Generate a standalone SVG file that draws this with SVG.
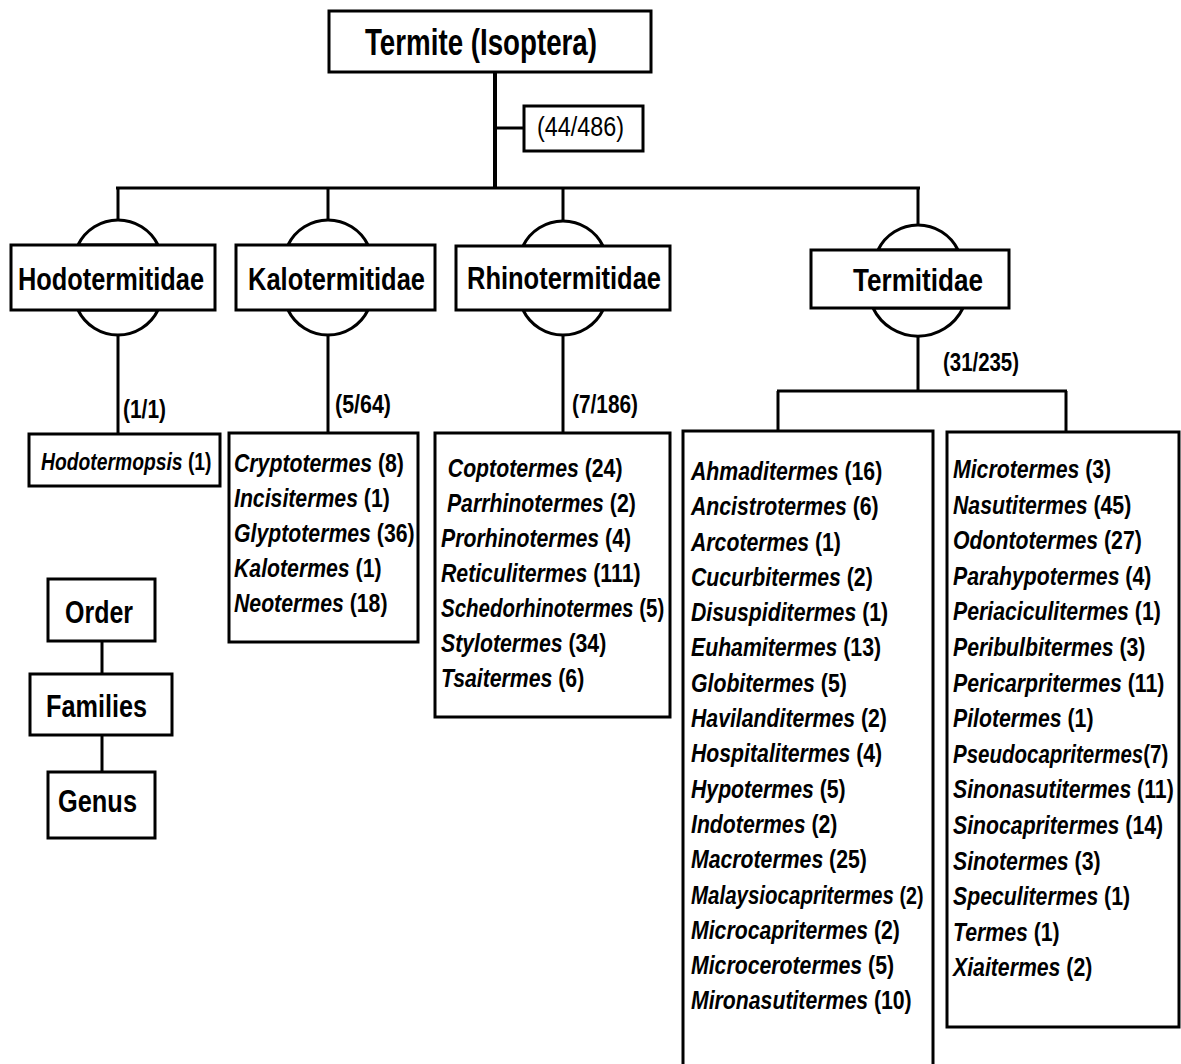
<svg xmlns="http://www.w3.org/2000/svg" width="1181" height="1064" viewBox="0 0 1181 1064">
<style>
.box{fill:#fff;stroke:#000;stroke-width:3}
.ln{stroke:#000;stroke-width:3;fill:none}
.arc{stroke:#000;stroke-width:3;fill:#fff}
.h{font-family:"Liberation Sans",Arial,sans-serif;font-weight:bold;font-size:32px;fill:#000}
.li{font-family:"Liberation Sans",Arial,sans-serif;font-weight:bold;font-size:25px;fill:#000}
.cnt{font-family:"Liberation Sans",Arial,sans-serif;font-weight:bold;font-size:25px;fill:#000}
.it{font-style:italic}
</style>
<rect width="1181" height="1064" fill="#fff"/>
<g id="connectors">
  <line class="ln" x1="495" y1="72" x2="495" y2="189" style="stroke-width:4"/>
  <line class="ln" x1="495" y1="128" x2="524" y2="128"/>
  <line class="ln" x1="116" y1="188" x2="920" y2="188"/>
  <line class="ln" x1="118" y1="188" x2="118" y2="221"/>
  <line class="ln" x1="328" y1="188" x2="328" y2="221"/>
  <line class="ln" x1="563" y1="188" x2="563" y2="221"/>
  <line class="ln" x1="918" y1="188" x2="918" y2="226"/>
  <line class="ln" x1="118" y1="335" x2="118" y2="434"/>
  <line class="ln" x1="328" y1="335" x2="328" y2="433"/>
  <line class="ln" x1="563" y1="335" x2="563" y2="433"/>
  <line class="ln" x1="918" y1="337" x2="918" y2="391"/>
  <line class="ln" x1="777" y1="391" x2="1067" y2="391"/>
  <line class="ln" x1="778" y1="391" x2="778" y2="431"/>
  <line class="ln" x1="1066" y1="391" x2="1066" y2="432"/>
  <line class="ln" x1="102" y1="641" x2="102" y2="674"/>
  <line class="ln" x1="102" y1="735" x2="102" y2="772"/>
  <text class="cnt" x="123" y="418" textLength="43" lengthAdjust="spacingAndGlyphs">(1/1)</text>
  <text class="cnt" x="335" y="413" textLength="56" lengthAdjust="spacingAndGlyphs">(5/64)</text>
  <text class="cnt" x="572" y="413" textLength="66" lengthAdjust="spacingAndGlyphs">(7/186)</text>
  <text class="cnt" x="943" y="371" textLength="76" lengthAdjust="spacingAndGlyphs">(31/235)</text>
</g>
<g id="order">
  <rect class="box" x="329" y="11" width="322" height="61"/>
  <text class="h" x="365" y="55" style="font-size:36px" textLength="232" lengthAdjust="spacingAndGlyphs">Termite (Isoptera)</text>
</g>
<g id="total">
  <rect class="box" x="524" y="106" width="119" height="45"/>
  <text x="537" y="136" style="font-family:'Liberation Sans',Arial,sans-serif;font-size:28px" textLength="87" lengthAdjust="spacingAndGlyphs">(44/486)</text>
</g>
<g id="hodotermitidae">
  <path class="arc" d="M78,245 A44.5,44.5 0 0 1 158,245 Z"/>
  <path class="arc" d="M78,310 A44.5,44.5 0 0 0 158,310 Z"/>
  <rect class="box" x="11" y="245" width="204" height="65"/>
  <text class="h" x="18" y="290" textLength="186" lengthAdjust="spacingAndGlyphs">Hodotermitidae</text>
</g>
<g id="kalotermitidae">
  <path class="arc" d="M288,245 A44.5,44.5 0 0 1 368,245 Z"/>
  <path class="arc" d="M288,310 A44.5,44.5 0 0 0 368,310 Z"/>
  <rect class="box" x="236" y="245" width="199" height="65"/>
  <text class="h" x="248" y="290" textLength="177" lengthAdjust="spacingAndGlyphs">Kalotermitidae</text>
</g>
<g id="rhinotermitidae">
  <path class="arc" d="M523,246 A44.5,44.5 0 0 1 603,246 Z"/>
  <path class="arc" d="M523,310 A44.5,44.5 0 0 0 603,310 Z"/>
  <rect class="box" x="456" y="246" width="214" height="64"/>
  <text class="h" x="467" y="289" textLength="194" lengthAdjust="spacingAndGlyphs">Rhinotermitidae</text>
</g>
<g id="termitidae">
  <path class="arc" d="M878,250 A44.5,44.5 0 0 1 958,250 Z"/>
  <path class="arc" d="M873,308 A50,50 0 0 0 963,308 Z"/>
  <rect class="box" x="811" y="250" width="198" height="58"/>
  <text class="h" x="853" y="291" textLength="130" lengthAdjust="spacingAndGlyphs">Termitidae</text>
</g>
<g id="hodo-genera">
  <rect class="box" x="29" y="434" width="191" height="52"/>
  <g transform="translate(41,0) scale(0.84,1)" class="li">
    <text x="0" y="470" style="font-size:23px"><tspan class="it">Hodotermopsis</tspan> (1)</text>
  </g>
</g>
<g id="kalo-genera">
  <rect class="box" x="229" y="433" width="189" height="209"/>
  <g transform="translate(234,0) scale(0.85,1)" class="li">
    <text x="0" y="472"><tspan class="it">Cryptotermes</tspan> (8)</text>
    <text x="0" y="507"><tspan class="it">Incisitermes</tspan> (1)</text>
    <text x="0" y="542"><tspan class="it">Glyptotermes</tspan> (36)</text>
    <text x="0" y="577"><tspan class="it">Kalotermes</tspan> (1)</text>
    <text x="0" y="612"><tspan class="it">Neotermes</tspan> (18)</text>
  </g>
</g>
<g id="rhino-genera">
  <rect class="box" x="435" y="433" width="235" height="284"/>
  <g transform="translate(441,0) scale(0.85,1)" class="li">
    <text x="8" y="477"><tspan class="it">Coptotermes</tspan> (24)</text>
    <text x="7" y="512"><tspan class="it">Parrhinotermes</tspan> (2)</text>
    <text x="0" y="547"><tspan class="it">Prorhinotermes</tspan> (4)</text>
    <text x="0" y="582"><tspan class="it">Reticulitermes</tspan> (111)</text>
    <text x="0" y="652"><tspan class="it">Stylotermes</tspan> (34)</text>
    <text x="0" y="687"><tspan class="it">Tsaitermes</tspan> (6)</text>
  </g>
  <g transform="translate(441,0) scale(0.82,1)" class="li">
    <text x="0" y="617"><tspan class="it">Schedorhinotermes</tspan> (5)</text>
  </g>
</g>
<g id="termitidae-genera-1">
  <rect class="box" x="683" y="431" width="250" height="640"/>
  <g transform="translate(691,0) scale(0.85,1)" class="li">
    <text x="0" y="480"><tspan class="it">Ahmaditermes</tspan> (16)</text>
    <text x="0" y="515.3"><tspan class="it">Ancistrotermes</tspan> (6)</text>
    <text x="0" y="550.6"><tspan class="it">Arcotermes</tspan> (1)</text>
    <text x="0" y="585.9"><tspan class="it">Cucurbitermes</tspan> (2)</text>
    <text x="0" y="621.2"><tspan class="it">Disuspiditermes</tspan> (1)</text>
    <text x="0" y="656.5"><tspan class="it">Euhamitermes</tspan> (13)</text>
    <text x="0" y="691.8"><tspan class="it">Globitermes</tspan> (5)</text>
    <text x="0" y="727.1"><tspan class="it">Havilanditermes</tspan> (2)</text>
    <text x="0" y="762.4"><tspan class="it">Hospitalitermes</tspan> (4)</text>
    <text x="0" y="797.7"><tspan class="it">Hypotermes</tspan> (5)</text>
    <text x="0" y="833"><tspan class="it">Indotermes</tspan> (2)</text>
    <text x="0" y="868.3"><tspan class="it">Macrotermes</tspan> (25)</text>
    <text x="0" y="938.9"><tspan class="it">Microcapritermes</tspan> (2)</text>
    <text x="0" y="974.2"><tspan class="it">Microcerotermes</tspan> (5)</text>
    <text x="0" y="1009.5"><tspan class="it">Mironasutitermes</tspan> (10)</text>
  </g>
  <g transform="translate(691,0) scale(0.82,1)" class="li">
    <text x="0" y="903.6"><tspan class="it">Malaysiocapritermes</tspan> <tspan style="font-size:24px">(2)</tspan></text>
  </g>
</g>
<g id="termitidae-genera-2">
  <rect class="box" x="947" y="432" width="232" height="595"/>
  <g transform="translate(953,0) scale(0.85,1)" class="li">
    <text x="0" y="478"><tspan class="it">Microtermes</tspan> (3)</text>
    <text x="0" y="513.6"><tspan class="it">Nasutitermes</tspan> (45)</text>
    <text x="0" y="549.2"><tspan class="it">Odontotermes</tspan> (27)</text>
    <text x="0" y="584.8"><tspan class="it">Parahypotermes</tspan> (4)</text>
    <text x="0" y="620.4"><tspan class="it">Periaciculitermes</tspan> (1)</text>
    <text x="0" y="656"><tspan class="it">Peribulbitermes</tspan> (3)</text>
    <text x="0" y="691.6"><tspan class="it">Pericarpritermes</tspan> (11)</text>
    <text x="0" y="727.2"><tspan class="it">Pilotermes</tspan> (1)</text>
    <text x="0" y="798.4"><tspan class="it">Sinonasutitermes</tspan> (11)</text>
    <text x="0" y="834"><tspan class="it">Sinocapritermes</tspan> (14)</text>
    <text x="0" y="869.6"><tspan class="it">Sinotermes</tspan> (3)</text>
    <text x="0" y="905.2"><tspan class="it">Speculitermes</tspan> (1)</text>
    <text x="0" y="940.8"><tspan class="it">Termes</tspan> (1)</text>
    <text x="0" y="976.4"><tspan class="it">Xiaitermes</tspan> (2)</text>
  </g>
  <g transform="translate(953,0) scale(0.82,1)" class="li">
    <text x="0" y="762.8"><tspan class="it">Pseudocapritermes</tspan>(7)</text>
  </g>
</g>
<g id="legend-order">
  <rect class="box" x="48" y="579" width="107" height="62"/>
  <text class="h" x="65" y="623" textLength="68" lengthAdjust="spacingAndGlyphs">Order</text>
</g>
<g id="legend-families">
  <rect class="box" x="30" y="674" width="142" height="61"/>
  <text class="h" x="46" y="717" textLength="101" lengthAdjust="spacingAndGlyphs">Families</text>
</g>
<g id="legend-genus">
  <rect class="box" x="48" y="772" width="107" height="66"/>
  <text class="h" x="58" y="812" textLength="79" lengthAdjust="spacingAndGlyphs">Genus</text>
</g>
</svg>
